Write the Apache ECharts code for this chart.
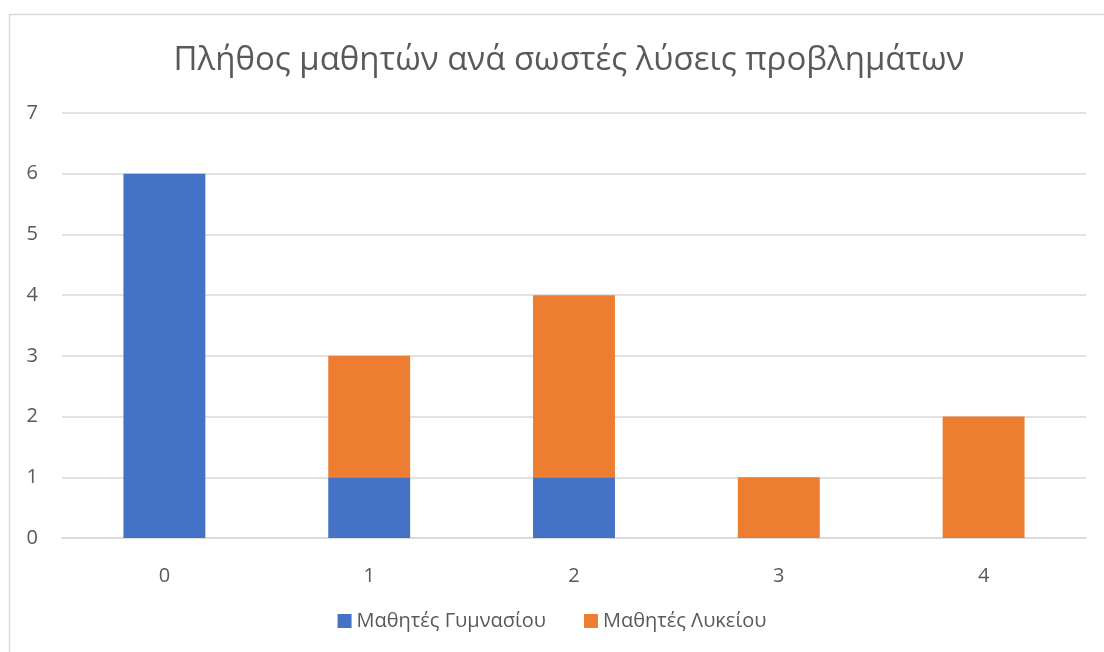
<!DOCTYPE html>
<html>
<head>
<meta charset="utf-8">
<script src="https://cdn.jsdelivr.net/npm/echarts@6/dist/echarts.min.js"></script>
<style>
  html, body { margin: 0; padding: 0; background: #fff; }
  #chart { width: 1104px; height: 652px; }
</style>
</head>
<body>
<div id="chart"></div>
<script>
// data
const categories = ["0", "1", "2", "3", "4"];
const gymnasium = [6, 1, 1, null, null];
const lyceum = [null, 2, 3, 1, 2];
const yTicks = [0, 1, 2, 3, 4, 5, 6, 7];

const textColor = "#595959";
const gridColor = "#d9d9d9";
const font = "'Open Sans', 'Noto Sans', sans-serif";

const chart = echarts.init(document.getElementById("chart"));

const option = {
  animation: false,
  textStyle: { fontFamily: font },
  title: {
    text: "Πλήθος μαθητών ανά σωστές λύσεις προβλημάτων",
    left: 564,
    top: 39,
    textAlign: "center",
    textStyle: { color: textColor, fontSize: 33, fontWeight: "normal", fontFamily: font },
  },
  legend: {
    bottom: 16,
    left: "center",
    itemWidth: 14,
    itemHeight: 14,
    itemGap: 38,
    icon: "rect",
    textStyle: { color: textColor, fontSize: 20, fontFamily: font },
    data: ["Μαθητές Γυμνασίου", "Μαθητές Λυκείου"],
  },
  graphic: [
    {
      type: "rect",
      shape: { x: 9.5, y: 14.5, width: 1200, height: 700 },
      style: { fill: "none", stroke: gridColor, lineWidth: 1.5 },
      silent: true,
      z: -1,
    },
  ],
  grid: { left: 62, right: 18, top: 113, bottom: 114 },
  xAxis: {
    type: "category",
    data: categories,
    axisLine: { lineStyle: { color: gridColor, width: 1.5 } },
    axisTick: { show: false },
    axisLabel: { color: textColor, fontSize: 20, margin: 28 },
  },
  yAxis: {
    type: "value",
    min: yTicks[0],
    max: yTicks[yTicks.length - 1],
    interval: 1,
    axisLine: { show: false },
    axisTick: { show: false },
    splitLine: { lineStyle: { color: gridColor, width: 1.5 } },
    axisLabel: { color: textColor, fontSize: 20, margin: 24 },
  },
  series: [
    {
      name: "Μαθητές Γυμνασίου",
      type: "bar",
      stack: "total",
      barWidth: "40%",
      data: gymnasium,
      itemStyle: { color: "#4472c4" },
    },
    {
      name: "Μαθητές Λυκείου",
      type: "bar",
      stack: "total",
      barWidth: "40%",
      data: lyceum,
      itemStyle: { color: "#ed7d31" },
    },
  ],
};

chart.setOption(option);
</script>
</body>
</html>
